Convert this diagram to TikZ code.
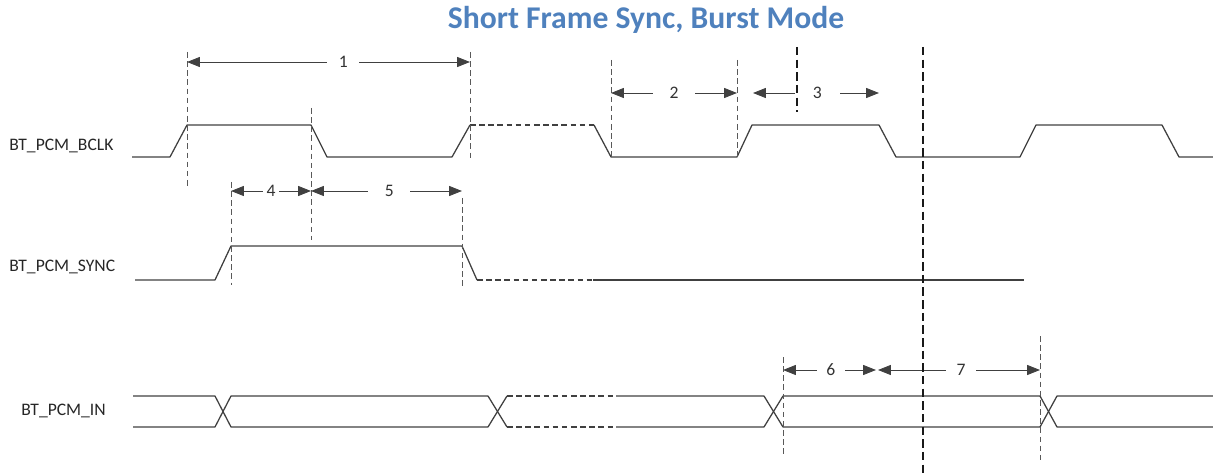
\documentclass[tikz,border=0pt]{standalone}
\usepackage{fontspec}
\setmainfont{Carlito}
\usepackage{xcolor}
\usetikzlibrary{arrows.meta}
\definecolor{titleblue}{RGB}{79,129,189}
\tikzset{
  wave/.style={draw=black!75, line width=0.9pt, line join=round},
  wavedash/.style={wave, dash pattern=on 4pt off 2.5pt},
  guide/.style={draw=black!65, line width=0.6pt, dash pattern=on 4pt off 2.5pt},
  marker/.style={draw=black!90, line width=1.3pt, dash pattern=on 6pt off 3pt},
  dim/.style={{Triangle[length=3.2mm,width=2.5mm]}-{Triangle[length=3.2mm,width=2.5mm]},
    draw=black!75, line width=0.6pt},
  num/.style={fill=white, inner sep=0pt, minimum height=10pt,
    font=\fontsize{12.5}{14}\selectfont, text=black!80},
  sig/.style={anchor=west, inner sep=0pt, font=\fontsize{12.5}{14}\selectfont, text=black!85},
}

\begin{document}
\begin{tikzpicture}[x=0.025cm, y=-0.025cm]
  \useasboundingbox (0,0) rectangle (1213,473);
  \node[font=\fontsize{22.5}{26}\selectfont\bfseries, text=titleblue] (title) at (646,20) {Short Frame Sync, Burst Mode};
  \node[sig] (bclk) at (9,146) {BT\_PCM\_BCLK};
  \node[sig] (sync) at (9,267) {BT\_PCM\_SYNC};
  \node[sig] (pcmin) at (21,411) {BT\_PCM\_IN};

  % waveforms
  \draw[wave] (132,157) -- (170,157) -- (187,125) -- (311,125) -- (327,157) -- (452,157) -- (470,125);
  \draw[wavedash] (470,125) -- (594,125);
  \draw[wave] (594,125) -- (611,157) -- (737,157) -- (752,125) -- (879,125) -- (896,157)
    -- (1020,157) -- (1036,125) -- (1162,125) -- (1179,157) -- (1213,157);
  \draw[wave] (135,280) -- (215,280) -- (231,246) -- (462,246) -- (477,280);
  \draw[wavedash] (477,280) -- (593,280);
  \draw[wave] (593,280) -- (1024,280);
  \draw[wave] (133,396) -- (215,396) -- (231,427) -- (488,427) -- (507,396);
  \draw[wave] (133,427) -- (215,427) -- (231,396) -- (488,396) -- (507,427);
  \draw[wavedash] (507,396) -- (616,396) (507,427) -- (616,427);
  \draw[wave] (616,396) -- (764,396) -- (783,427) -- (1040,427) -- (1057,396) -- (1213,396);
  \draw[wave] (616,427) -- (764,427) -- (783,396) -- (1040,396) -- (1057,427) -- (1213,427);

  % guide lines
  \foreach \x/\ya/\yb in {187/52/188, 311/108/240, 470/52/160, 611/60/160, 737/60/160,
      231/182/285, 462/198/287, 783/357/455, 1040/336/462}
    \draw[guide] (\x,\ya) -- (\x,\yb);

  % timing marks
  \coordinate (t1a) at (187,62);  \coordinate (t1b) at (470,62);
  \coordinate (t2a) at (611,93);  \coordinate (t2b) at (737,93);
  \coordinate (t3a) at (753,93);  \coordinate (t3b) at (879,93);
  \coordinate (t4a) at (231,191); \coordinate (t4b) at (311,191);
  \coordinate (t5a) at (311,191); \coordinate (t5b) at (462,191);
  \coordinate (t6a) at (783,370); \coordinate (t6b) at (876,370);
  \coordinate (t7a) at (878,370); \coordinate (t7b) at (1040,370);
  \draw[dim] (t1a) -- node[num, minimum width=23pt, xshift=10.5pt]{1} (t1b);
  \draw[dim] (t2a) -- node[num, minimum width=30pt]{2} (t2b);
  \draw[dim] (t3a) -- node[num, minimum width=32pt, xshift=1pt]{3} (t3b);
  \draw[dim] (t4a) -- node[num, minimum width=12pt]{4} (t4b);
  \draw[dim] (t5a) -- node[num, minimum width=30pt, xshift=2pt]{5} (t5b);
  \draw[dim] (t6a) -- node[num, minimum width=20pt, xshift=1pt]{6} (t6b);
  \draw[dim] (t7a) -- node[num, minimum width=21pt, xshift=1.5pt]{7} (t7b);

  \draw[marker] (797,47) -- (797,112);
  \draw[marker] (923,47) -- (923,473);
\end{tikzpicture}
\end{document}
